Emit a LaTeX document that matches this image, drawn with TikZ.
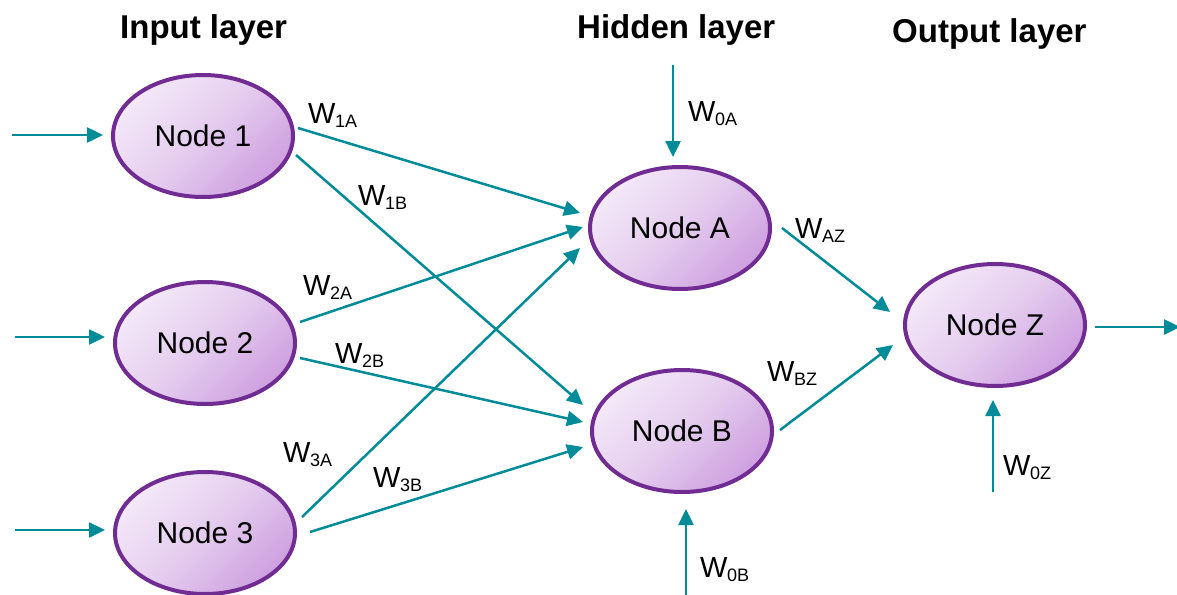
\documentclass[tikz,border=0pt]{standalone}
\usepackage{fontspec}
\setmainfont{Liberation Sans}
\usetikzlibrary{arrows.meta,shapes.geometric,calc}
\definecolor{teal1}{RGB}{0,139,153}
\definecolor{purp}{RGB}{112,44,146}
\definecolor{lavA}{RGB}{244,232,248}
\definecolor{lavB}{RGB}{228,204,238}
\definecolor{lavC}{RGB}{206,160,224}
\newcommand\wlab[1]{W\kern-0.5pt\raisebox{-4.5pt}{\fontsize{18}{18}\selectfont #1}}
\begin{document}
\begin{tikzpicture}[x=1pt,y=-1pt,
 neuron/.style={ellipse, draw=purp, line width=4pt, minimum width=180pt, minimum height=122pt,
   inner sep=0pt, top color=lavA, bottom color=lavC, middle color=lavB, shading angle=45,
   font=\fontsize{30}{36}\selectfont},
 conn/.style={draw=teal1, line width=2.5pt, -{Triangle[length=16pt,width=15pt]}},
 wlabel/.style={anchor=base west, inner sep=0pt, font=\fontsize{29}{31}\selectfont},
 title/.style={anchor=base west, inner sep=0pt, font=\fontsize{33}{36}\selectfont\bfseries}]
\useasboundingbox (0,0) rectangle (1177,594);

% titles
\node[title] (tin) at (120,38) {Input layer};
\node[title] (thid) at (577,38) {Hidden layer};
\node[title] (tout) at (892,43) {Output layer};

% neurons
\node[neuron] (n1) at (203,136) {Node 1};
\node[neuron] (n2) at (205,343) {Node 2};
\node[neuron] (n3) at (205,533) {Node 3};
\node[neuron] (nA) at (680,228) {Node A};
\node[neuron] (nB) at (682,431) {Node B};
\node[neuron] (nZ) at (995,325) {Node Z};

% weighted connections
\draw[conn] ($(n1)+(95,-8)$) -- ($(nA)+(-100,-15)$);
\draw[conn] ($(n1)+(93,19)$) -- ($(nB)+(-99,-26)$);
\draw[conn] ($(n2)+(95,-21)$) -- ($(nA)+(-97,-1)$);
\draw[conn] ($(n2)+(95,15)$) -- ($(nB)+(-99,-9)$);
\draw[conn] ($(n3)+(97,-16)$) -- ($(nA)+(-100,20)$);
\draw[conn] ($(n3)+(105,-1)$) -- ($(nB)+(-99,16)$);
\draw[conn] ($(nA)+(102,0)$) -- ($(nZ)+(-105,-13)$);
\draw[conn] ($(nB)+(98,-1)$) -- ($(nZ)+(-102,20)$);

% inputs
\coordinate (i1) at (12,135);
\coordinate (i2) at (15,337);
\coordinate (i3) at (15,530);
\draw[conn, shorten >=8pt] (i1) -- (i1 -| n1.west);
\draw[conn, shorten >=8pt] (i2) -- (i2 -| n2.west);
\draw[conn, shorten >=8pt] (i3) -- (i3 -| n3.west);

% biases
\coordinate (b0A) at (673,65);
\coordinate (b0B) at (686,596);
\coordinate (b0Z) at (993,492);
\draw[conn, shorten >=8pt] (b0A) -- (b0A |- nA.north);
\draw[conn, shorten >=15pt] (b0B) -- (b0B |- nB.south);
\draw[conn, shorten >=12pt] (b0Z) -- (b0Z |- nZ.south);

% output
\coordinate (out) at (1180,327);
\draw[conn, shorten <=8pt] (out -| nZ.east) -- (out);

% labels
\node[wlabel] (w1A) at (308,123) {\wlab{1A}};
\node[wlabel] (w1B) at (358,205) {\wlab{1B}};
\node[wlabel] (w2A) at (303,295) {\wlab{2A}};
\node[wlabel] (w2B) at (335,363) {\wlab{2B}};
\node[wlabel] (w3A) at (283,462) {\wlab{3A}};
\node[wlabel] (w3B) at (373,487) {\wlab{3B}};
\node[wlabel] (w0A) at (688,121) {\wlab{0A}};
\node[wlabel] (wAZ) at (795,238) {\wlab{AZ}};
\node[wlabel] (wBZ) at (767,381) {\wlab{BZ}};
\node[wlabel] (w0B) at (700,577) {\wlab{0B}};
\node[wlabel] (w0Z) at (1003,475) {\wlab{0Z}};
\end{tikzpicture}
\end{document}
